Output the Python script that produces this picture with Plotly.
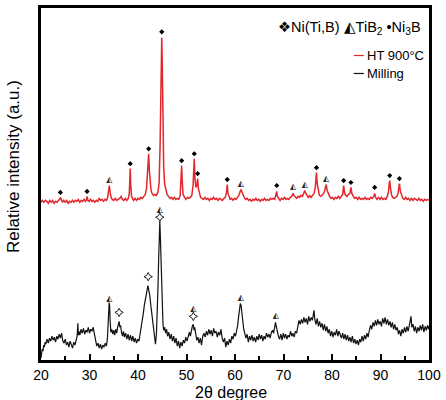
import plotly.graph_objects as go

# ---- data (2theta in degrees, intensity in arbitrary units) ----
red_points = [
    (20.0,159),(20.3,161),(20.6,159),(20.9,161),(21.2,160),(21.5,158),(21.8,161),(22.1,159),
    (22.4,161),(22.7,158),(23.0,160),(23.3,159),(23.6,161),(23.85,162),(24.0,164),(24.15,161),
    (24.4,159),(24.7,161),(25.0,159),(25.3,161),(25.6,158),(25.9,160),(26.2,159),(26.5,161),
    (26.8,159),(27.1,161),(27.4,160),(27.7,162),(28.0,159),(28.3,161),(28.6,160),(28.9,162),
    (29.2,160),(29.4,162),(29.5,165),(29.65,161),(29.9,160),(30.2,162),(30.5,160),(30.8,161),
    (31.1,159),(31.4,161),(31.7,160),(32.0,163),(32.3,161),(32.6,162),(32.9,160),(33.2,162),
    (33.5,161),(33.75,164),(33.95,170),(34.1,176),(34.25,169),(34.45,164),(34.7,162),(35.0,161),
    (35.3,163),(35.6,161),(35.9,162),(36.2,163),(36.5,165),(36.8,162),(37.1,161),(37.4,163),
    (37.7,161),(38.0,163),(38.2,168),(38.3,178),(38.4,193),(38.5,177),(38.65,166),(38.85,163),
    (39.1,161),(39.4,163),(39.7,161),(40.0,163),(40.3,162),(40.6,164),(40.9,163),(41.2,165),
    (41.5,167),(41.75,173),(41.95,185),(42.1,198),(42.2,208),(42.35,190),(42.5,178),(42.7,171),
    (42.9,168),(43.2,166),(43.5,167),(43.8,166),(44.1,169),(44.35,178),(44.55,215),(44.7,275),
    (44.85,318),(44.9,325),(45.0,300),(45.15,240),(45.3,195),(45.5,177),(45.75,170),(46.0,167),
    (46.3,165),(46.6,163),(46.9,164),(47.2,162),(47.5,164),(47.8,162),(48.1,163),(48.4,162),
    (48.7,166),(48.85,178),(49.0,196),(49.15,178),(49.3,167),(49.6,164),(49.9,162),(50.2,164),
    (50.5,163),(50.8,164),(51.1,166),(51.35,176),(51.5,192),(51.6,203),(51.75,182),(51.95,174),
    (52.15,177),(52.3,183),(52.45,173),(52.65,167),(52.9,164),(53.2,163),(53.5,162),(53.8,164),
    (54.1,162),(54.4,163),(54.7,161),(55.0,163),(55.3,162),(55.6,164),(55.9,162),(56.2,163),
    (56.5,161),(56.8,163),(57.1,162),(57.4,161),(57.7,163),(58.0,164),(58.25,169),(58.4,177),
    (58.55,168),(58.75,164),(59.0,162),(59.3,163),(59.6,161),(59.9,163),(60.2,162),(60.5,164),
    (60.8,166),(61.0,169),(61.2,172),(61.4,170),(61.65,166),(61.9,164),(62.2,162),(62.5,163),
    (62.8,161),(63.1,162),(63.4,160),(63.7,162),(64.0,161),(64.3,163),(64.6,161),(64.9,162),
    (65.2,160),(65.5,162),(65.8,161),(66.1,163),(66.4,161),(66.7,162),(67.0,161),(67.3,163),
    (67.6,162),(67.9,163),(68.2,162),(68.45,166),(68.6,170),(68.75,165),(69.0,163),(69.3,161),
    (69.6,163),(69.9,162),(70.2,164),(70.5,162),(70.8,163),(71.1,162),(71.4,164),(71.7,165),
    (71.9,167),(72.0,168),(72.15,166),(72.4,164),(72.7,163),(73.0,165),(73.3,164),(73.6,166),
    (73.9,165),(74.15,168),(74.4,171),(74.6,168),(74.85,165),(75.1,164),(75.4,166),(75.7,164),
    (76.0,166),(76.3,168),(76.55,174),(76.7,184),(76.8,189),(76.95,178),(77.15,170),(77.4,166),
    (77.7,165),(78.0,167),(78.3,168),(78.55,172),(78.8,177),(79.0,171),(79.25,167),(79.5,165),
    (79.8,163),(80.1,164),(80.4,162),(80.7,164),(81.0,163),(81.3,165),(81.6,163),(81.9,165),
    (82.2,167),(82.4,176),(82.6,168),(82.85,166),(83.1,165),(83.4,167),(83.7,168),(83.9,174),
    (84.1,168),(84.4,165),(84.7,163),(85.0,164),(85.3,162),(85.6,164),(85.9,162),(86.2,163),
    (86.5,162),(86.8,164),(87.1,162),(87.4,163),(87.7,162),(88.0,164),(88.3,163),(88.6,165),
    (88.8,168),(89.0,164),(89.3,162),(89.6,164),(89.9,162),(90.2,164),(90.5,162),(90.8,163),
    (91.1,162),(91.4,165),(91.65,170),(91.8,178),(91.9,181),(92.05,174),(92.25,167),(92.5,164),
    (92.8,163),(93.1,164),(93.4,165),(93.65,169),(93.9,178),(94.1,170),(94.3,166),(94.6,163),
    (94.9,162),(95.2,164),(95.5,162),(95.8,163),(96.1,161),(96.4,163),(96.7,161),(97.0,163),
    (97.3,162),(97.6,161),(97.9,163),(98.2,161),(98.5,162),(98.8,160),(99.1,162),(99.4,161),
    (99.7,162),(100.0,161),
]

black_points = [
    (20.0,2),(20.1,6),(20.25,11),(20.4,9),(20.55,15),(20.7,13),(20.85,18),(21.0,16),
    (21.25,21),(21.5,17),(21.75,22),(22.0,19),(22.25,24),(22.5,20),(22.75,23),(23.0,18),
    (23.25,24),(23.5,21),(23.75,26),(24.0,22),(24.25,27),(24.5,19),(24.75,17),(25.0,21),
    (25.25,15),(25.5,18),(25.75,13),(26.0,19),(26.25,16),(26.5,12),(26.75,18),(27.0,15),
    (27.25,20),(27.45,24),(27.6,37),(27.7,25),(27.85,29),(28.0,25),(28.25,31),(28.5,27),
    (28.75,32),(29.0,26),(29.25,30),(29.5,28),(29.75,33),(30.0,27),(30.25,31),(30.5,29),
    (30.75,33),(31.0,25),(31.25,20),(31.5,14),(31.75,17),(32.0,12),(32.25,16),(32.5,11),
    (32.75,15),(33.0,13),(33.25,17),(33.5,14),(33.7,22),(33.85,35),(33.95,48),(34.05,58),
    (34.15,55),(34.25,40),(34.4,28),(34.6,31),(34.8,26),(35.0,30),(35.2,25),(35.4,31),
    (35.6,27),(35.8,33),(35.95,36),(36.1,39),(36.25,33),(36.4,35),(36.6,28),(36.8,24),
    (37.0,29),(37.2,23),(37.45,27),(37.7,21),(37.95,26),(38.2,20),(38.45,25),(38.7,19),
    (38.95,24),(39.2,18),(39.45,22),(39.7,17),(39.95,21),(40.2,19),(40.45,27),(40.7,34),
    (40.9,42),(41.1,47),(41.3,55),(41.5,61),(41.7,67),(41.9,72),(42.05,75),(42.2,71),
    (42.4,66),(42.6,57),(42.8,48),(43.0,38),(43.2,30),(43.4,22),(43.6,16),(43.8,26),
    (43.95,42),(44.1,70),(44.25,100),(44.4,128),(44.5,140),(44.6,126),(44.72,100),(44.85,70),
    (45.0,48),(45.15,36),(45.3,30),(45.5,33),(45.7,27),(45.9,31),(46.1,24),(46.35,28),
    (46.6,21),(46.85,26),(47.1,19),(47.35,24),(47.6,17),(47.85,22),(48.1,14),(48.35,19),
    (48.6,12),(48.85,18),(49.1,14),(49.35,20),(49.6,17),(49.85,23),(50.1,19),(50.35,25),
    (50.6,28),(50.8,24),(51.0,31),(51.2,34),(51.4,36),(51.55,30),(51.7,33),(51.9,25),
    (52.1,20),(52.35,23),(52.6,17),(52.85,22),(53.1,15),(53.35,24),(53.6,27),(53.85,23),
    (54.1,29),(54.35,25),(54.6,31),(54.85,26),(55.1,30),(55.35,24),(55.6,32),(55.85,27),
    (56.1,29),(56.35,23),(56.6,28),(56.85,25),(57.1,31),(57.35,22),(57.6,18),(57.85,22),
    (58.1,13),(58.35,19),(58.6,15),(58.85,21),(59.1,17),(59.35,24),(59.6,21),(59.85,27),
    (60.1,24),(60.35,30),(60.55,35),(60.75,44),(60.95,52),(61.1,57),(61.25,55),(61.4,47),
    (61.6,38),(61.8,31),(62.0,27),(62.25,22),(62.5,26),(62.75,18),(63.0,24),(63.25,20),
    (63.5,25),(63.75,19),(64.0,23),(64.25,18),(64.5,24),(64.75,20),(65.0,26),(65.25,21),
    (65.5,25),(65.75,19),(66.0,24),(66.25,21),(66.5,27),(66.75,23),(67.0,26),(67.25,22),
    (67.5,28),(67.75,30),(67.95,27),(68.15,33),(68.35,38),(68.55,33),(68.75,27),(68.95,24),
    (69.2,21),(69.45,26),(69.7,20),(69.95,27),(70.2,22),(70.45,26),(70.7,21),(70.95,25),
    (71.2,23),(71.45,29),(71.7,24),(71.95,27),(72.2,23),(72.45,29),(72.7,27),(72.95,33),
    (73.2,40),(73.45,36),(73.7,41),(73.95,37),(74.2,43),(74.45,38),(74.7,42),(74.95,36),
    (75.2,44),(75.45,39),(75.7,43),(75.95,40),(76.15,46),(76.3,50),(76.45,41),(76.7,36),
    (76.95,42),(77.2,34),(77.45,39),(77.7,33),(77.95,37),(78.2,30),(78.45,36),(78.7,29),
    (78.95,34),(79.2,27),(79.45,31),(79.7,24),(79.95,29),(80.2,23),(80.45,28),(80.7,25),
    (80.95,31),(81.2,24),(81.45,29),(81.7,26),(81.95,22),(82.2,27),(82.45,21),(82.7,26),
    (82.95,20),(83.2,25),(83.45,19),(83.7,23),(83.95,18),(84.2,24),(84.45,17),(84.7,21),
    (84.95,16),(85.2,20),(85.45,15),(85.7,21),(85.95,18),(86.2,24),(86.45,19),(86.7,25),
    (86.95,21),(87.2,27),(87.45,23),(87.7,30),(87.95,35),(88.2,31),(88.45,38),(88.7,34),
    (88.95,40),(89.2,35),(89.45,41),(89.7,36),(89.95,39),(90.2,34),(90.45,42),(90.7,37),
    (90.95,43),(91.2,36),(91.45,41),(91.7,35),(91.95,39),(92.2,33),(92.45,38),(92.7,31),
    (92.95,36),(93.2,30),(93.45,33),(93.7,26),(93.95,30),(94.2,24),(94.45,31),(94.7,27),
    (94.95,33),(95.2,28),(95.45,34),(95.7,29),(95.95,37),(96.15,40),(96.3,44),(96.45,33),
    (96.7,36),(96.95,29),(97.2,34),(97.45,27),(97.7,33),(97.95,29),(98.2,35),(98.45,30),
    (98.7,36),(98.95,28),(99.2,34),(99.45,30),(99.7,35),(99.95,31),(100.0,34),
]

# phase marker positions (2theta, marker height)
ni3b_x = [24.0, 29.5, 38.4, 42.2, 44.9, 49.0, 51.6, 52.3, 58.4, 68.6, 76.8, 82.4, 83.9, 88.8, 91.9, 93.9]
ni3b_y = [169, 170, 198, 213, 331, 201, 208, 188, 182, 176, 194, 181, 179, 174, 186, 183]
tib2_red_x = [34.1, 61.2, 72.0, 74.4, 78.8]
tib2_red_y = [182, 178, 174, 177, 183]
tib2_black_x = [34.1, 44.5, 51.4, 61.2, 68.4]
tib2_black_y = [62, 151, 51, 63, 44]
nitib_x = [36.1, 42.1, 44.5, 51.4]
nitib_y = [48, 84, 144, 44]

x_ticks = [20, 30, 40, 50, 60, 70, 80, 90, 100]

red_x = [p[0] for p in red_points]
red_y = [p[1] for p in red_points]
black_x = [p[0] for p in black_points]
black_y = [p[1] for p in black_points]

FONT = "Liberation Sans, Arial, sans-serif"

fig = go.Figure()
fig.add_trace(go.Scatter(x=red_x, y=red_y, mode="lines",
                         line=dict(color="#e3262b", width=1.5), showlegend=False))
fig.add_trace(go.Scatter(x=black_x, y=black_y, mode="lines",
                         line=dict(color="#111111", width=1.2), showlegend=False))
fig.add_trace(go.Scatter(x=ni3b_x, y=ni3b_y, mode="markers",
                         marker=dict(symbol="diamond", size=4, color="black"), showlegend=False))
fig.add_trace(go.Scatter(x=tib2_red_x + tib2_black_x, y=tib2_red_y + tib2_black_y, mode="text",
                         text=["◭"] * (len(tib2_red_x) + len(tib2_black_x)),
                         textposition="middle center",
                         textfont=dict(size=8, color="#222222", family="DejaVu Sans"), showlegend=False))
fig.add_trace(go.Scatter(x=nitib_x, y=nitib_y, mode="markers",
                         marker=dict(symbol="star-diamond-open", size=6, color="#222222",
                                     line=dict(width=1, color="#222222")), showlegend=False))

# phase legend text
fig.add_annotation(xref="paper", yref="paper", x=0.985, y=0.944, xanchor="right", yanchor="middle",
                   text="<span style='font-family:DejaVu Sans'>❖</span>Ni(Ti,B) ◭TiB<sub>2</sub> •Ni<sub>3</sub>B",
                   showarrow=False, font=dict(family=FONT, size=14.5, color="black"))
# series legend (drawn manually)
fig.add_shape(type="line", xref="paper", yref="paper", x0=0.806, x1=0.832, y0=0.865, y1=0.865,
              line=dict(color="#e3262b", width=1.2))
fig.add_shape(type="line", xref="paper", yref="paper", x0=0.806, x1=0.832, y0=0.814, y1=0.814,
              line=dict(color="#111111", width=1.2))
fig.add_annotation(xref="paper", yref="paper", x=0.834, y=0.865, xanchor="left", yanchor="middle",
                   text="HT 900°C", showarrow=False, font=dict(family=FONT, size=13, color="black"))
fig.add_annotation(xref="paper", yref="paper", x=0.834, y=0.814, xanchor="left", yanchor="middle",
                   text="Milling", showarrow=False, font=dict(family=FONT, size=13, color="black"))
# axis titles
fig.add_annotation(xref="paper", yref="paper", x=-0.069, y=0.549, xanchor="center", yanchor="middle",
                   text="Relative intensity (a.u.)", textangle=-90, showarrow=False,
                   font=dict(family=FONT, size=17, color="black"))
fig.add_annotation(xref="paper", yref="paper", x=0.49, y=-0.093, xanchor="center", yanchor="middle",
                   text="2θ degree", showarrow=False, font=dict(family=FONT, size=16, color="black"))

fig.update_xaxes(range=[20, 100], tickvals=x_ticks, ticktext=[str(v) for v in x_ticks],
                 ticks="inside", ticklen=6, tickwidth=2, tickcolor="black",
                 minor=dict(dtick=5, ticks="inside", ticklen=4, tickwidth=2, tickcolor="black"),
                 showline=True, linewidth=2.5, linecolor="black", mirror=True,
                 showgrid=False, zeroline=False,
                 tickfont=dict(family=FONT, size=14, color="black"))
fig.update_yaxes(range=[0, 355], showticklabels=False, ticks="",
                 showline=True, linewidth=2.5, linecolor="black", mirror=True,
                 showgrid=False, zeroline=False)

fig.update_layout(width=446, height=400, margin=dict(l=41, r=13, t=5, b=40),
                  plot_bgcolor="white", paper_bgcolor="white", showlegend=False)

fig.write_html("out.html", config={"displayModeBar": False},
               post_script="document.body.style.margin='0';document.body.style.padding='0';")
